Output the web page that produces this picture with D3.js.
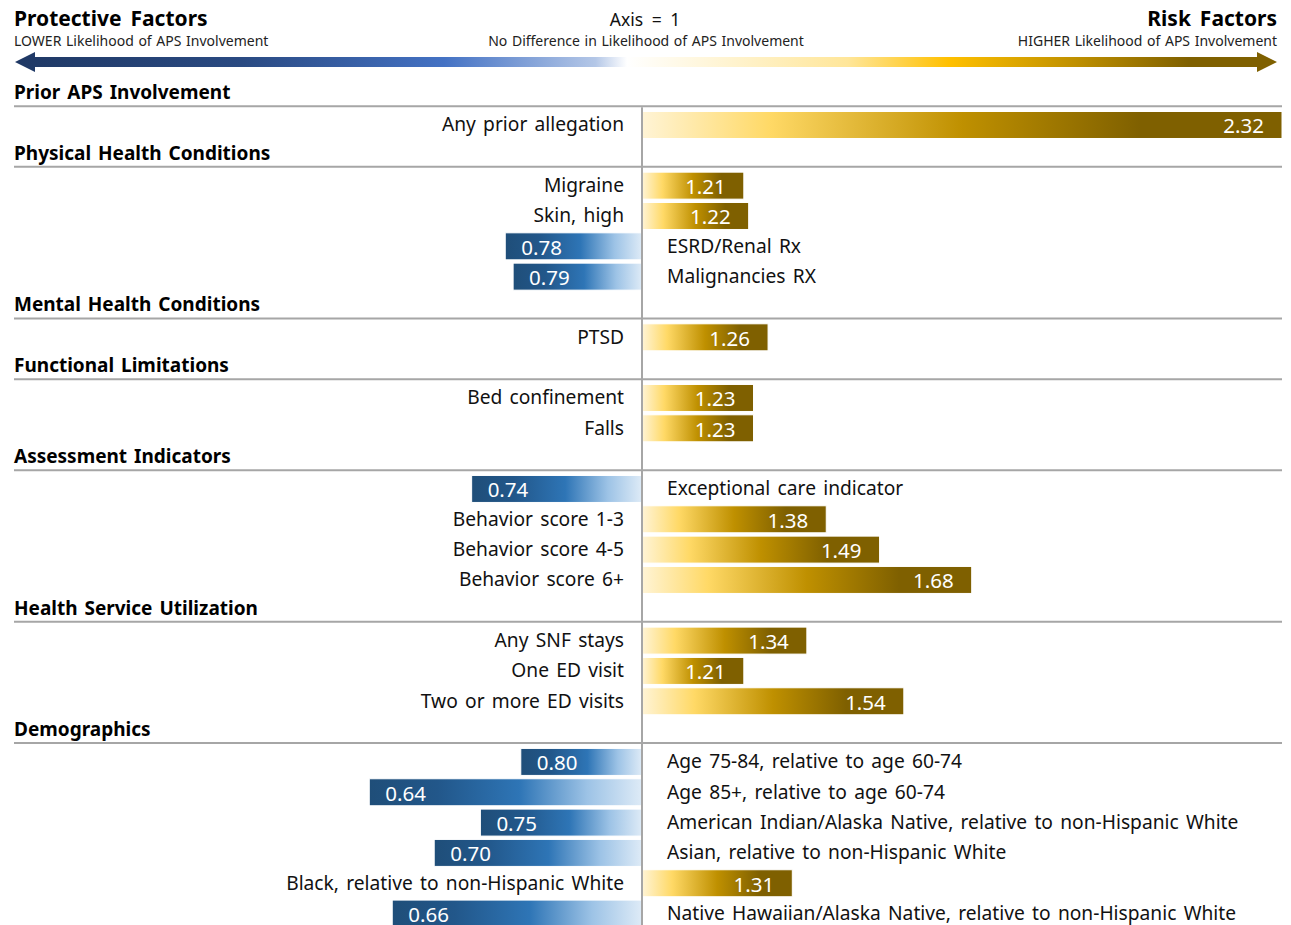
<!DOCTYPE html>
<html>
<head>
<meta charset="utf-8">
<script src="https://cdn.jsdelivr.net/npm/d3@7"></script>
<style>
  html, body { margin: 0; padding: 0; background: #fff; }
  svg { display: block; font-family: "Noto Sans", "Open Sans", sans-serif; }
</style>
</head>
<body>
<svg id="chart" width="1291" height="925"></svg>
<script>
// Odds ratios of APS involvement, grouped by factor domain.
const sections = [
  "Prior APS Involvement",
  "Physical Health Conditions",
  "Mental Health Conditions",
  "Functional Limitations",
  "Assessment Indicators",
  "Health Service Utilization",
  "Demographics"
];

const factorLabels = [
  "Any prior allegation",
  "Migraine",
  "Skin, high",
  "ESRD/Renal Rx",
  "Malignancies RX",
  "PTSD",
  "Bed confinement",
  "Falls",
  "Exceptional care indicator",
  "Behavior score 1-3",
  "Behavior score 4-5",
  "Behavior score 6+",
  "Any SNF stays",
  "One ED visit",
  "Two or more ED visits",
  "Age 75-84, relative to age 60-74",
  "Age 85+, relative to age 60-74",
  "American Indian/Alaska Native, relative to non-Hispanic White",
  "Asian, relative to non-Hispanic White",
  "Black, relative to non-Hispanic White",
  "Native Hawaiian/Alaska Native, relative to non-Hispanic White"
];

const oddsRatios = [
  2.32,
  1.21, 1.22, 0.78, 0.79,
  1.26,
  1.23, 1.23,
  0.74, 1.38, 1.49, 1.68,
  1.34, 1.21, 1.54,
  0.80, 0.64, 0.75, 0.70, 1.31, 0.66
];

const factorSection = [
  0,
  1, 1, 1, 1,
  2,
  3, 3,
  4, 4, 4, 4,
  5, 5, 5,
  6, 6, 6, 6, 6, 6
];

const headerLeft = ["Protective Factors", "LOWER Likelihood of APS Involvement"];
const headerMid = ["Axis = 1", "No Difference in Likelihood of APS Involvement"];
const headerRight = ["Risk Factors", "HIGHER Likelihood of APS Involvement"];

// ---- layout ----
const left = 14, right = 1282;
const svg = d3.select("#chart");

// Every section header and every factor takes one row slot.
const slots = [];
sections.forEach((s, si) => {
  slots.push({ id: "h" + si, type: "header", label: s });
  factorLabels.forEach((f, i) => {
    if (factorSection[i] === si) slots.push({ id: "f" + i, type: "factor", label: f, value: oddsRatios[i] });
  });
});

const y = d3.scaleBand()
  .domain(slots.map(d => d.id))
  .range([79.5, 79.5 + slots.length * 30.33])
  .paddingInner(0.11)
  .paddingOuter(0.055);

// Ratio scale: risk ratios run right of the axis; protective ratios are
// mirrored through their reciprocal so equal effects get equal lengths.
const x = d3.scaleLinear().domain([1, 2.32]).range([642, right]);
const x0 = x(1);
const xPos = v => v >= 1 ? x(v) : 2 * x0 - x(1 / v);

// ---- gradients ----
const defs = svg.append("defs");

const riskGrad = defs.append("linearGradient").attr("id", "riskGrad")
  .attr("x1", 0).attr("x2", 1).attr("y1", 0).attr("y2", 0);
[[0, "#fff4d6"], [0.2, "#ffd966"], [0.5, "#bf9000"], [0.78, "#7f6000"], [1, "#7f6000"]]
  .forEach(([o, c]) => riskGrad.append("stop").attr("offset", o).attr("stop-color", c));

const protGrad = defs.append("linearGradient").attr("id", "protGrad")
  .attr("x1", 0).attr("x2", 1).attr("y1", 0).attr("y2", 0);
[[0, "#1f4e79"], [0.25, "#22578a"], [0.55, "#2e75b6"], [0.8, "#9dc3e6"], [1, "#deebf7"]]
  .forEach(([o, c]) => protGrad.append("stop").attr("offset", o).attr("stop-color", c));

const arrowGrad = defs.append("linearGradient").attr("id", "arrowGrad")
  .attr("gradientUnits", "userSpaceOnUse")
  .attr("x1", 15).attr("x2", 1277).attr("y1", 0).attr("y2", 0);
[[0, "#1f3864"], [0.18, "#2a4a82"], [0.34, "#4472c4"], [0.46, "#b4c7e7"], [0.485, "#ffffff"],
 [0.66, "#ffe699"], [0.74, "#ffc000"], [0.84, "#bf9000"], [0.93, "#7f6000"], [1, "#7f6000"]]
  .forEach(([o, c]) => arrowGrad.append("stop").attr("offset", o).attr("stop-color", c));

// ---- header ----
svg.append("text").attr("x", left).attr("y", 26)
  .attr("font-size", 21).attr("font-weight", "bold").attr("fill", "#000")
  .attr("word-spacing", 3.5).text(headerLeft[0]);
svg.append("text").attr("x", left).attr("y", 45.5)
  .attr("font-size", 14).attr("fill", "#222").attr("word-spacing", 1).text(headerLeft[1]);

svg.append("text").attr("x", 645).attr("y", 25.5).attr("text-anchor", "middle")
  .attr("font-size", 17.5).attr("fill", "#111").attr("word-spacing", 4).text(headerMid[0]);
svg.append("text").attr("x", 646).attr("y", 45.5).attr("text-anchor", "middle")
  .attr("font-size", 14).attr("fill", "#222").attr("word-spacing", 1).text(headerMid[1]);

svg.append("text").attr("x", 1277).attr("y", 26).attr("text-anchor", "end")
  .attr("font-size", 21).attr("font-weight", "bold").attr("fill", "#000")
  .attr("word-spacing", 3.5).text(headerRight[0]);
svg.append("text").attr("x", 1277).attr("y", 45.5).attr("text-anchor", "end")
  .attr("font-size", 14).attr("fill", "#222").attr("word-spacing", 1).text(headerRight[1]);

// Double-headed direction arrow
const ay = 62, shaft = 5, head = 10, headLen = 20, ax1 = 15, ax2 = 1277;
svg.append("path")
  .attr("d", `M${ax1},${ay} L${ax1 + headLen},${ay - head} L${ax1 + headLen},${ay - shaft}
              L${ax2 - headLen},${ay - shaft} L${ax2 - headLen},${ay - head} L${ax2},${ay}
              L${ax2 - headLen},${ay + head} L${ax2 - headLen},${ay + shaft}
              L${ax1 + headLen},${ay + shaft} L${ax1 + headLen},${ay + head} Z`)
  .attr("fill", "url(#arrowGrad)");

// ---- section headers ----
const headers = slots.filter(d => d.type === "header");
svg.append("g").selectAll("text").data(headers).join("text")
  .attr("x", left)
  .attr("y", d => y(d.id) + y.bandwidth() / 2 - 2.5)
  .attr("dominant-baseline", "central")
  .attr("font-size", 19).attr("font-weight", "bold").attr("fill", "#000")
  .attr("word-spacing", 2)
  .text(d => d.label);

svg.append("g").selectAll("line").data(headers).join("line")
  .attr("x1", left).attr("x2", right)
  .attr("y1", d => y(d.id) + y.bandwidth() / 2 + 11.5)
  .attr("y2", d => y(d.id) + y.bandwidth() / 2 + 11.5)
  .attr("stroke", "#a6a6a6").attr("stroke-width", 2);

// ---- bars ----
const factors = slots.filter(d => d.type === "factor");
const bars = svg.append("g");

bars.selectAll("rect").data(factors).join("rect")
  .attr("x", d => Math.min(x0, xPos(d.value)))
  .attr("y", d => y(d.id))
  .attr("width", d => Math.abs(xPos(d.value) - x0))
  .attr("height", y.bandwidth())
  .attr("fill", d => d.value >= 1 ? "url(#riskGrad)" : "url(#protGrad)")
  .attr("stroke", "#ffffff").attr("stroke-width", 1);

// Value labels inside the bars
bars.selectAll("text.val").data(factors).join("text")
  .attr("class", "val")
  .attr("x", d => d.value >= 1 ? xPos(d.value) - 18 : xPos(d.value) + 16)
  .attr("y", d => y(d.id) + y.bandwidth() / 2 + 0.5)
  .attr("dominant-baseline", "central")
  .attr("text-anchor", d => d.value >= 1 ? "end" : "start")
  .attr("font-size", 20.5).attr("fill", "#ffffff")
  .text(d => d.value.toFixed(2));

// Factor labels on the opposite side of the axis
bars.selectAll("text.lab").data(factors).join("text")
  .attr("class", "lab")
  .attr("x", d => d.value >= 1 ? 624 : 667)
  .attr("y", d => y(d.id) + y.bandwidth() / 2 - 1)
  .attr("dominant-baseline", "central")
  .attr("text-anchor", d => d.value >= 1 ? "end" : "start")
  .attr("font-size", 19.2).attr("fill", "#111")
  .attr("word-spacing", 2.3)
  .text(d => d.label);

// ---- axis at ratio = 1 ----
svg.append("line")
  .attr("x1", x0).attr("x2", x0)
  .attr("y1", y(slots[0].id) + y.bandwidth() / 2 + 12.5).attr("y2", 925)
  .attr("stroke", "#a6a6a6").attr("stroke-width", 2);
</script>
</body>
</html>
